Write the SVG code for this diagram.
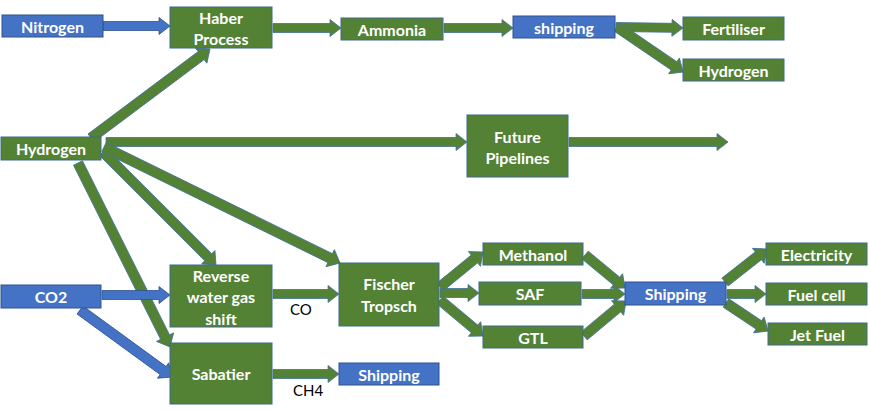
<svg xmlns="http://www.w3.org/2000/svg" width="869" height="411" viewBox="0 0 869 411">
<style>
.g{fill:#548235;stroke:#3d6b8f;stroke-width:1}
.b{fill:#4472C4;stroke:#2F528F;stroke-width:1}
.ag{fill:#548235;stroke:#41719C;stroke-width:0.8}
.ab{fill:#4472C4;stroke:#2F528F;stroke-width:0.8}
text{font-family:Lato,"Open Sans","Liberation Sans",sans-serif;font-size:16px;font-weight:bold;fill:#fff;text-anchor:middle;dominant-baseline:central}
.lbl{fill:#000;text-anchor:start;font-size:15px;font-weight:normal}
</style>
<rect width="869" height="411" fill="#fff"/>
<g id="connectors">
<polygon class="ab" transform="translate(103,26)" points="0,-4.5 56,-4.5 56,-8.5 67,0 56,8.5 56,4.5 0,4.5"/>
<polygon class="ag" transform="translate(273,28)" points="0,-4.5 57,-4.5 57,-8.5 68,0 57,8.5 57,4.5 0,4.5"/>
<polygon class="ag" transform="translate(444,28)" points="0,-4.5 58,-4.5 58,-8.5 69,0 58,8.5 58,4.5 0,4.5"/>
<polygon class="ag" transform="translate(616,27) rotate(0.86)" points="0,-4.5 56,-4.5 56,-8.5 67,0 56,8.5 56,4.5 0,4.5"/>
<polygon class="ag" transform="translate(617,27) rotate(34.29)" points="0,-5 69,-5 69,-9.5 80,0 69,9.5 69,5 0,5"/>
<polygon class="ag" transform="translate(91,138) rotate(-36.8)" points="0,-5 137.6,-5 137.6,-9.5 148.6,0 137.6,9.5 137.6,5 0,5"/>
<polygon class="ag" transform="translate(106,142)" points="0,-4.5 350,-4.5 350,-8.5 361,0 350,8.5 350,4.5 0,4.5"/>
<polygon class="ag" transform="translate(569,142)" points="0,-4.5 148,-4.5 148,-8.5 159,0 148,8.5 148,4.5 0,4.5"/>
<polygon class="ag" transform="translate(103,152) rotate(45)" points="0,-5 148.8,-5 148.8,-9.5 159.8,0 148.8,9.5 148.8,5 0,5"/>
<polygon class="ag" transform="translate(104,147) rotate(26.17)" points="0,-5 252,-5 252,-9.5 263,0 252,9.5 252,5 0,5"/>
<polygon class="ag" transform="translate(78,163) rotate(63.43)" points="0,-5 194.7,-5 194.7,-9.5 205.7,0 194.7,9.5 194.7,5 0,5"/>
<polygon class="ab" transform="translate(102,295)" points="0,-4.5 57,-4.5 57,-8.5 68,0 57,8.5 57,4.5 0,4.5"/>
<polygon class="ab" transform="translate(80,310) rotate(36.07)" points="0,-5 102.8,-5 102.8,-9.5 113.8,0 102.8,9.5 102.8,5 0,5"/>
<polygon class="ag" transform="translate(273,294)" points="0,-4.5 55,-4.5 55,-8.5 66,0 55,8.5 55,4.5 0,4.5"/>
<polygon class="ag" transform="translate(273,374)" points="0,-4.5 55,-4.5 55,-8.5 66,0 55,8.5 55,4.5 0,4.5"/>
<polygon class="ag" transform="translate(440,287) rotate(-39.15)" points="0,-5 44.4,-5 44.4,-9.5 55.4,0 44.4,9.5 44.4,5 0,5"/>
<polygon class="ag" transform="translate(440,293)" points="0,-4.5 28,-4.5 28,-8.5 39,0 28,8.5 28,4.5 0,4.5"/>
<polygon class="ag" transform="translate(440,300) rotate(39.94)" points="0,-5 45.1,-5 45.1,-9.5 56.1,0 45.1,9.5 45.1,5 0,5"/>
<polygon class="ag" transform="translate(585,255) rotate(39.52)" points="0,-5 40.9,-5 40.9,-9.5 51.9,0 40.9,9.5 40.9,5 0,5"/>
<polygon class="ag" transform="translate(582,294)" points="0,-4.5 32,-4.5 32,-8.5 43,0 32,8.5 32,4.5 0,4.5"/>
<polygon class="ag" transform="translate(584,336) rotate(-39.81)" points="0,-5 43.7,-5 43.7,-9.5 54.7,0 43.7,9.5 43.7,5 0,5"/>
<polygon class="ag" transform="translate(725,282) rotate(-38.16)" points="0,-5 42.4,-5 42.4,-9.5 53.4,0 42.4,9.5 42.4,5 0,5"/>
<polygon class="ag" transform="translate(727,294)" points="0,-4.5 28,-4.5 28,-8.5 39,0 28,8.5 28,4.5 0,4.5"/>
<polygon class="ag" transform="translate(726,303) rotate(33.69)" points="0,-5 39.5,-5 39.5,-9.5 50.5,0 39.5,9.5 39.5,5 0,5"/>
<text class="lbl" x="290" y="309">CO</text>
<text class="lbl" x="293" y="390">CH4</text>
</g>
<g id="nitrogen"><rect class="b" x="2" y="15" width="101" height="22"/><text x="52.5" y="26">Nitrogen</text></g>
<g id="haber"><rect class="g" x="170" y="7" width="102" height="41"/><text x="221" y="17">Haber</text><text x="221" y="38">Process</text></g>
<g id="ammonia"><rect class="g" x="341" y="18" width="102" height="22"/><text x="392" y="29">Ammonia</text></g>
<g id="shipping-top"><rect class="b" x="513" y="16" width="102" height="22"/><text x="564" y="27">shipping</text></g>
<g id="fertiliser"><rect class="g" x="683" y="17" width="101" height="23"/><text x="733.5" y="28.5">Fertiliser</text></g>
<g id="hydrogen-out"><rect class="g" x="683" y="59" width="101" height="22"/><text x="733.5" y="70">Hydrogen</text></g>
<g id="hydrogen"><rect class="g" x="1" y="137" width="100" height="23"/><text x="51" y="148.5">Hydrogen</text></g>
<g id="future-pipelines"><rect class="g" x="467" y="115" width="101" height="62"/><text x="517.5" y="136">Future</text><text x="517.5" y="157">Pipelines</text></g>
<g id="rwgs"><rect class="g" x="170" y="265" width="102" height="62"/><text x="221" y="275">Reverse</text><text x="221" y="296.5">water gas</text><text x="221" y="318">shift</text></g>
<g id="co2"><rect class="b" x="1" y="285" width="100" height="23"/><text x="51" y="296.5">CO2</text></g>
<g id="sabatier"><rect class="g" x="170" y="343" width="102" height="61"/><text x="221" y="373.5">Sabatier</text></g>
<g id="fischer"><rect class="g" x="339" y="263" width="100" height="63"/><text x="389" y="283.5">Fischer</text><text x="389" y="305">Tropsch</text></g>
<g id="methanol"><rect class="g" x="483" y="243" width="100" height="22"/><text x="533" y="254">Methanol</text></g>
<g id="saf"><rect class="g" x="479" y="282" width="102" height="23"/><text x="530" y="293.5">SAF</text></g>
<g id="gtl"><rect class="g" x="483" y="326" width="100" height="22"/><text x="533" y="337">GTL</text></g>
<g id="shipping-bottom"><rect class="b" x="339" y="363" width="100" height="22"/><text x="389" y="374">Shipping</text></g>
<g id="shipping-right"><rect class="b" x="625" y="282" width="101" height="23"/><text x="675.5" y="293.5">Shipping</text></g>
<g id="electricity"><rect class="g" x="766" y="243" width="101" height="22"/><text x="816.5" y="254">Electricity</text></g>
<g id="fuel-cell"><rect class="g" x="766" y="283" width="101" height="22"/><text x="816.5" y="294">Fuel cell</text></g>
<g id="jet-fuel"><rect class="g" x="768" y="323" width="99" height="22"/><text x="817.5" y="334">Jet Fuel</text></g>
</svg>
